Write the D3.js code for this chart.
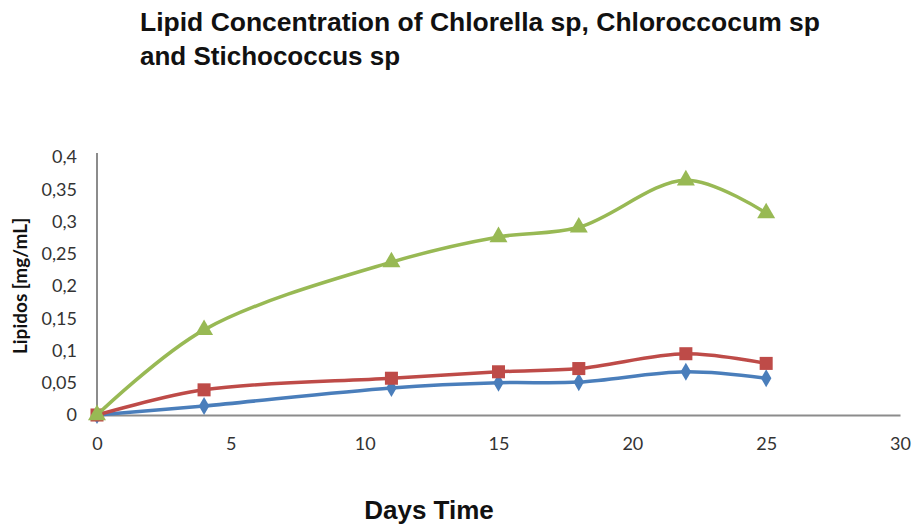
<!DOCTYPE html>
<html>
<head>
<meta charset="utf-8">
<script src="https://cdn.jsdelivr.net/npm/d3@7"></script>
<style>
  html, body { margin: 0; padding: 0; background: #fff; }
  svg { display: block; }
</style>
</head>
<body>
<svg id="chart" width="914" height="526"></svg>
<script>
const days = [0, 4, 11, 15, 18, 22, 25];
const chlorella = [0, 0.014, 0.042, 0.050, 0.051, 0.067, 0.057];
const chlorococcum = [0, 0.039, 0.057, 0.067, 0.072, 0.095, 0.080];
const stichococcus = [0, 0.132, 0.237, 0.276, 0.291, 0.364, 0.313];
const xTicks = [0, 5, 10, 15, 20, 25, 30];
const yTicks = [0, 0.05, 0.1, 0.15, 0.2, 0.25, 0.3, 0.35, 0.4];
const titleLines = ["Lipid Concentration of Chlorella sp, Chloroccocum sp", "and Stichococcus sp"];

const series = [
  { name: "Chlorella sp", values: chlorella, color: "#4a7ebb", symbol: d3.symbolDiamond, size: 95 },
  { name: "Chloroccocum sp", values: chlorococcum, color: "#be4b48", symbol: d3.symbolSquare, size: 170 },
  { name: "Stichococcus sp", values: stichococcus, color: "#98b954", symbol: d3.symbolTriangle, size: 140 }
];

const svg = d3.select("#chart");
const x = d3.scaleLinear().domain([0, 30]).range([97, 900]);
const y = d3.scaleLinear().domain([0, 0.4]).range([415, 157]);

// title
const title = svg.append("g").selectAll("text").data(titleLines).join("text")
  .attr("x", 140).attr("y", (d, i) => 31 + i * 34)
  .attr("font-family", "Liberation Sans, Arial, sans-serif")
  .attr("font-weight", "bold").attr("font-size", 26).attr("fill", "#111")
  .text(d => d);
title.filter((d, i) => i === 0).attr("textLength", 680).attr("lengthAdjust", "spacingAndGlyphs");

// axes
const fmt = d => d3.format("")(d).replace(".", ",");
const xAxis = svg.append("g").attr("transform", `translate(0,${y(0)})`)
  .call(d3.axisBottom(x).tickValues(xTicks).tickSize(0).tickPadding(22).tickFormat(d => d));
const yAxis = svg.append("g").attr("transform", `translate(${x(0)},0)`)
  .call(d3.axisLeft(y).tickValues(yTicks).tickSize(0).tickPadding(20).tickFormat(fmt));
[xAxis, yAxis].forEach(g => {
  g.select(".domain").attr("stroke", "#8c8c8c").attr("stroke-width", 2);
  g.selectAll("text").attr("font-family", "Lato, 'Open Sans', sans-serif")
    .attr("font-size", 18).attr("fill", "#333");
});
yAxis.select(".domain").attr("d", `M0,${y(0)}V153`);

// axis titles
svg.append("text").attr("x", 429).attr("y", 519).attr("text-anchor", "middle")
  .attr("font-family", "Liberation Sans, Arial, sans-serif").attr("font-weight", "bold")
  .attr("font-size", 26).attr("fill", "#111").text("Days Time");
svg.append("text").attr("transform", "translate(27,286) rotate(-90)").attr("text-anchor", "middle")
  .attr("font-family", "Lato, 'Open Sans', sans-serif").attr("font-weight", "bold")
  .attr("font-size", 19).attr("fill", "#111").text("Lipidos [mg/mL]");

// lines and markers
const line = d3.line().x(d => x(d[0])).y(d => y(d[1])).curve(d3.curveCatmullRom.alpha(0.5));
series.forEach(s => {
  const pts = days.map((d, i) => [d, s.values[i]]);
  svg.append("path").attr("d", line(pts)).attr("fill", "none")
    .attr("stroke", s.color).attr("stroke-width", 3.5).attr("stroke-linejoin", "round");
  svg.append("g").selectAll("path").data(pts).join("path")
    .attr("transform", d => `translate(${x(d[0])},${y(d[1])})`)
    .attr("d", d3.symbol().type(s.symbol).size(s.size))
    .attr("fill", s.color);
});
</script>
</body>
</html>
